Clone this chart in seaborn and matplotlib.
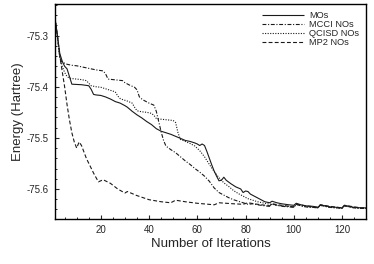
import matplotlib
matplotlib.use("Agg")
import matplotlib.pyplot as plt
from matplotlib.ticker import MultipleLocator, FixedLocator
import seaborn as sns
import pandas as pd

# ---- data ----
mos_x = [1, 2, 3, 4, 5, 6, 7, 8, 12, 15, 16, 17, 18, 20, 22, 24, 26, 28, 30, 31, 33, 35, 37, 39,
         41, 43, 45, 47, 49, 51, 53, 55, 57, 59, 60, 61, 62, 63, 64, 65, 66, 67, 68, 69, 70, 71,
         72, 74, 76, 78, 79, 80, 81, 82, 84, 86, 88, 90, 91, 93, 95, 98, 100, 101, 103, 105, 108,
         110, 111, 113, 115, 118, 120, 121, 123, 125, 128, 130]
mos_e = [-75.265, -75.300, -75.335, -75.350, -75.360, -75.365, -75.380, -75.395, -75.396, -75.398,
         -75.405, -75.415, -75.416, -75.417, -75.420, -75.424, -75.429, -75.432, -75.437, -75.440,
         -75.448, -75.455, -75.461, -75.468, -75.474, -75.482, -75.487, -75.490, -75.493, -75.497,
         -75.501, -75.505, -75.507, -75.510, -75.512, -75.515, -75.512, -75.515, -75.527, -75.540,
         -75.553, -75.565, -75.575, -75.584, -75.583, -75.577, -75.583, -75.590, -75.596, -75.600,
         -75.607, -75.604, -75.605, -75.610, -75.615, -75.620, -75.625, -75.627, -75.624, -75.627,
         -75.629, -75.631, -75.632, -75.628, -75.631, -75.633, -75.634, -75.636, -75.631, -75.633,
         -75.635, -75.636, -75.637, -75.632, -75.634, -75.636, -75.637, -75.637]

mcci_x = [1, 2, 3, 4, 6, 8, 10, 12, 15, 18, 21, 22, 23, 25, 27, 29, 30, 32, 34, 35, 36, 37, 38, 40,
          42, 43, 44, 45, 46, 47, 49, 51, 53, 55, 57, 59, 61, 63, 65, 67, 69, 71, 73, 75, 77, 79,
          81, 83, 85, 88, 90, 91, 93, 95, 98, 100, 101, 103, 105, 108, 110, 111, 113, 115, 118,
          120, 121, 123, 125, 128, 130]
mcci_e = [-75.265, -75.300, -75.345, -75.352, -75.356, -75.358, -75.359, -75.361, -75.364, -75.367,
          -75.369, -75.375, -75.385, -75.386, -75.387, -75.388, -75.392, -75.397, -75.401, -75.406,
          -75.420, -75.424, -75.427, -75.432, -75.436, -75.448, -75.468, -75.488, -75.505, -75.516,
          -75.523, -75.529, -75.537, -75.545, -75.552, -75.560, -75.567, -75.575, -75.585, -75.598,
          -75.607, -75.612, -75.617, -75.621, -75.624, -75.627, -75.630, -75.629, -75.631, -75.633,
          -75.634, -75.629, -75.632, -75.634, -75.635, -75.636, -75.630, -75.633, -75.635, -75.636,
          -75.637, -75.632, -75.634, -75.636, -75.637, -75.638, -75.633, -75.635, -75.637, -75.638,
          -75.638]

qcisd_x = [1, 2, 3, 4, 5, 6, 7, 8, 10, 12, 14, 15, 16, 18, 20, 22, 24, 26, 27, 28, 29, 31, 33, 34,
           35, 37, 39, 41, 42, 43, 44, 46, 48, 50, 51, 52, 53, 55, 57, 59, 61, 63, 65, 67, 69, 71,
           73, 75, 77, 79, 81, 83, 85, 87, 89, 91, 93, 95, 98, 100, 101, 103, 105, 108, 110, 111,
           113, 115, 118, 120, 121, 123, 125, 128, 130]
qcisd_e = [-75.265, -75.300, -75.340, -75.360, -75.372, -75.380, -75.383, -75.384, -75.385, -75.386,
           -75.388, -75.393, -75.398, -75.400, -75.401, -75.404, -75.407, -75.410, -75.418, -75.423,
           -75.425, -75.428, -75.432, -75.440, -75.447, -75.449, -75.450, -75.452, -75.456, -75.462,
           -75.463, -75.464, -75.465, -75.466, -75.470, -75.490, -75.503, -75.507, -75.511, -75.516,
           -75.525, -75.537, -75.552, -75.566, -75.578, -75.588, -75.595, -75.603, -75.609, -75.614,
           -75.619, -75.622, -75.625, -75.627, -75.629, -75.630, -75.632, -75.633, -75.634, -75.635,
           -75.630, -75.633, -75.635, -75.636, -75.637, -75.632, -75.634, -75.636, -75.637, -75.638,
           -75.633, -75.635, -75.637, -75.638, -75.638]

mp2_x = [1, 2, 3, 4, 5, 6, 7, 8, 9, 10, 11, 12, 14, 17, 19, 21, 24, 27, 30, 31, 35, 40, 45, 49, 51,
         55, 60, 67, 69, 75, 79, 81, 85, 90, 91, 95, 100, 101, 105, 110, 111, 115, 120, 121, 125,
         128, 130]
mp2_e = [-75.265, -75.300, -75.340, -75.370, -75.400, -75.435, -75.465, -75.490, -75.508, -75.520,
         -75.508, -75.515, -75.540, -75.569, -75.586, -75.582, -75.589, -75.600, -75.608, -75.605,
         -75.613, -75.621, -75.625, -75.627, -75.622, -75.625, -75.628, -75.631, -75.627, -75.629,
         -75.630, -75.627, -75.630, -75.633, -75.629, -75.632, -75.635, -75.630, -75.633, -75.636,
         -75.631, -75.634, -75.637, -75.632, -75.635, -75.637, -75.637]

labels = ["MOs", "MCCI NOs", "QCISD NOs", "MP2 NOs"]
xticks = [20, 40, 60, 80, 100, 120]
yticks = [-75.3, -75.4, -75.5, -75.6]

# ---- plot ----
sns.set_style("ticks")
plt.rcParams["font.family"] = ["Liberation Sans", "DejaVu Sans"]
plt.rcParams["axes.unicode_minus"] = False

fig = plt.figure(figsize=(3.74, 2.64), dpi=100)
ax = fig.add_axes([0.147, 0.170, 0.832, 0.815])

series = [(mos_x, mos_e, (0, ()), labels[0]),
          (mcci_x, mcci_e, (0, (3.5, 1.5, 1, 1.5)), labels[1]),
          (qcisd_x, qcisd_e, (0, (1, 1.3)), labels[2]),
          (mp2_x, mp2_e, (0, (3.5, 2)), labels[3])]

for xs, es, ls, lab in series:
    df = pd.DataFrame({"x": xs, "E": es})
    sns.lineplot(data=df, x="x", y="E", ax=ax, color="#1a1a1a", linewidth=0.8,
                 linestyle=ls, label=lab, estimator=None, sort=False)

ax.set_xlim(1, 130)
ax.set_ylim(-75.659, -75.238)
ax.xaxis.set_major_locator(FixedLocator(xticks))
ax.xaxis.set_minor_locator(MultipleLocator(5))
ax.yaxis.set_major_locator(FixedLocator(yticks))
ax.yaxis.set_minor_locator(MultipleLocator(0.02))
ax.set_yticklabels([f"{v:.1f}" for v in yticks])
ax.tick_params(which="both", direction="in", top=False, right=False, labelsize=7, pad=4.5)
ax.tick_params(which="major", length=3.2, width=0.8)
ax.tick_params(which="minor", length=1.6, width=0.7)
for s in ax.spines.values():
    s.set_linewidth(1.0)
    s.set_color("black")

ax.set_xlabel("Number of Iterations", fontsize=9.5, labelpad=2)
ax.set_ylabel("Energy (Hartree)", fontsize=9.5, labelpad=2)

leg = ax.legend(loc="upper right", frameon=False, fontsize=6.7, handlelength=4.6,
                handletextpad=0.5, labelspacing=0.02, borderaxespad=0.35)

fig.savefig("out.png", dpi=100)
